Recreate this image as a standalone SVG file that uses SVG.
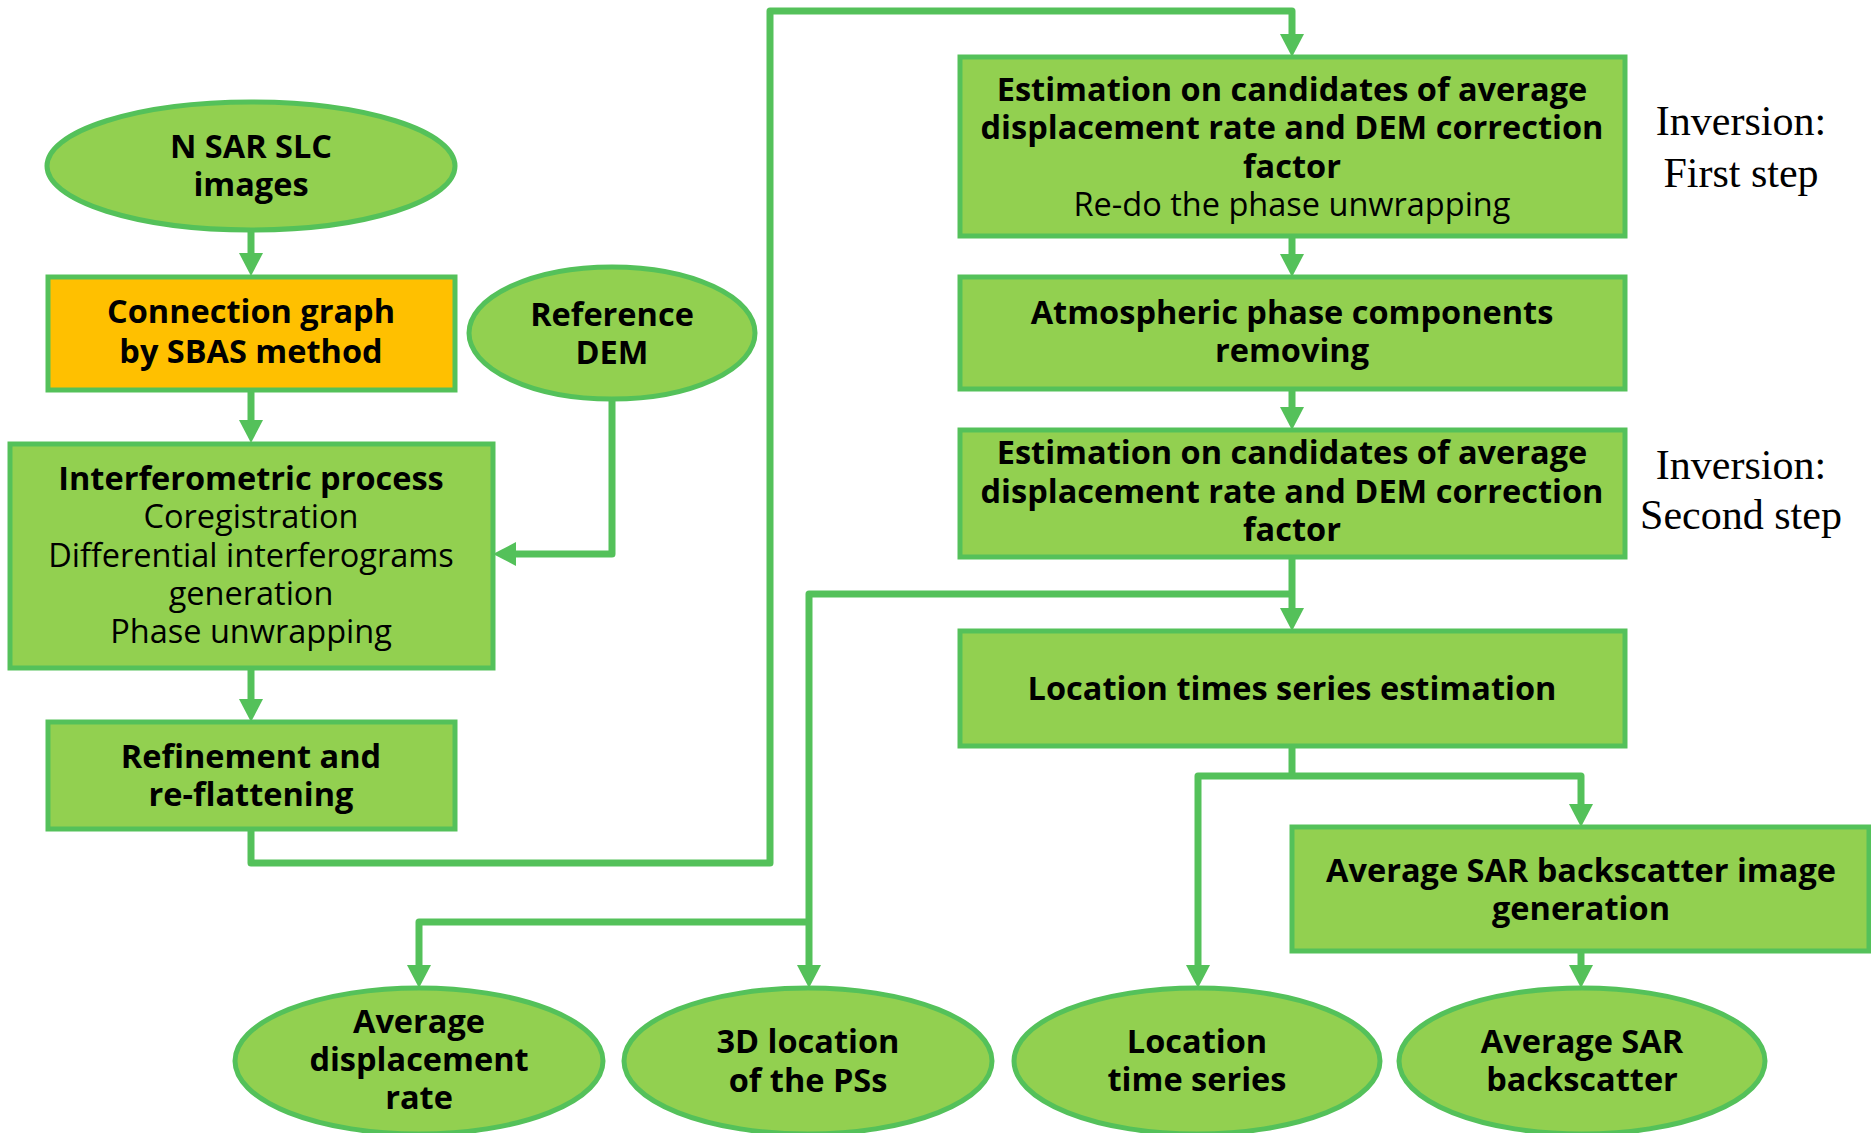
<svg xmlns="http://www.w3.org/2000/svg" width="1871" height="1133" viewBox="0 0 1871 1133">
  <defs>
    <marker id="arr" viewBox="0 0 24 24" markerWidth="24" markerHeight="24" refX="11" refY="12" orient="auto" markerUnits="userSpaceOnUse">
      <path d="M0,0 L23,12 L0,24 z" fill="#54C15A"/>
    </marker>
    <style>
      .node { fill: #92D050; stroke: #54C15A; stroke-width: 5; }
      .orange { fill: #FFC000; }
      .conn { fill: none; stroke: #54C15A; stroke-width: 7; stroke-linejoin: round; }
      .arrow { marker-end: url(#arr); }
      .b { font-family: "Open Sans", "Noto Sans", "Liberation Sans", sans-serif; font-weight: bold; font-size: 32.5px; fill: #000; text-anchor: middle; }
      .r { font-family: "Open Sans", "Noto Sans", "Liberation Sans", sans-serif; font-weight: normal; font-size: 32.5px; fill: #000; text-anchor: middle; }
      .serif { font-family: "Liberation Serif", "Times New Roman", serif; font-size: 42px; fill: #000; text-anchor: middle; }
    </style>
  </defs>
  <rect width="1871" height="1133" fill="#FFFFFF"/>

  <g id="connectors">
    <path class="conn arrow" d="M251,230 V264"/>
    <path class="conn arrow" d="M251,390 V431"/>
    <path class="conn arrow" d="M612,399 V554 H505"/>
    <path class="conn arrow" d="M251,668 V710"/>
    <path class="conn arrow" d="M251,829 V863 H770 V11 H1292 V45"/>
    <path class="conn arrow" d="M1292,236 V265"/>
    <path class="conn arrow" d="M1292,389 V418"/>
    <path class="conn arrow" d="M1292,557 V619"/>
    <path class="conn arrow" d="M1292,594 H809 V976"/>
    <path class="conn arrow" d="M809,922 H419 V976"/>
    <path class="conn" d="M1292,746 V776"/>
    <path class="conn arrow" d="M1292,776 H1198 V976"/>
    <path class="conn arrow" d="M1292,776 H1581 V815"/>
    <path class="conn arrow" d="M1581,944 V976"/>
  </g>

  <g id="n-sar-slc">
    <ellipse class="node" cx="251" cy="166" rx="204" ry="64"/>
    <text class="b" x="251" y="158">N SAR SLC</text>
    <text class="b" x="251" y="196">images</text>
  </g>

  <g id="connection-graph">
    <rect class="node orange" x="48" y="277" width="407" height="113"/>
    <text class="b" x="251" y="323">Connection graph</text>
    <text class="b" x="251" y="363">by SBAS method</text>
  </g>

  <g id="reference-dem">
    <ellipse class="node" cx="612" cy="333" rx="143" ry="66"/>
    <text class="b" x="612" y="326">Reference</text>
    <text class="b" x="612" y="364">DEM</text>
  </g>

  <g id="interferometric">
    <rect class="node" x="10" y="444" width="483" height="224"/>
    <text class="b" x="251" y="490">Interferometric process</text>
    <text class="r" x="251" y="528">Coregistration</text>
    <text class="r" x="251" y="567">Differential interferograms</text>
    <text class="r" x="251" y="605">generation</text>
    <text class="r" x="251" y="643">Phase unwrapping</text>
  </g>

  <g id="refinement">
    <rect class="node" x="48" y="722" width="407" height="107"/>
    <text class="b" x="251" y="768">Refinement and</text>
    <text class="b" x="251" y="806">re-flattening</text>
  </g>

  <g id="estimation-1">
    <rect class="node" x="960" y="57" width="665" height="179"/>
    <text class="b" x="1292" y="101">Estimation on candidates of average</text>
    <text class="b" x="1292" y="139">displacement rate and DEM correction</text>
    <text class="b" x="1292" y="178">factor</text>
    <text class="r" x="1292" y="216">Re-do the phase unwrapping</text>
  </g>

  <g id="inversion-1">
    <text class="serif" x="1741" y="135">Inversion:</text>
    <text class="serif" x="1741" y="187">First step</text>
  </g>

  <g id="atmospheric">
    <rect class="node" x="960" y="277" width="665" height="112"/>
    <text class="b" x="1292" y="324">Atmospheric phase components</text>
    <text class="b" x="1292" y="362">removing</text>
  </g>

  <g id="estimation-2">
    <rect class="node" x="960" y="430" width="665" height="127"/>
    <text class="b" x="1292" y="464">Estimation on candidates of average</text>
    <text class="b" x="1292" y="503">displacement rate and DEM correction</text>
    <text class="b" x="1292" y="541">factor</text>
  </g>

  <g id="inversion-2">
    <text class="serif" x="1741" y="479">Inversion:</text>
    <text class="serif" x="1741" y="529">Second step</text>
  </g>

  <g id="location-estimation">
    <rect class="node" x="960" y="631" width="665" height="115"/>
    <text class="b" x="1292" y="700">Location times series estimation</text>
  </g>

  <g id="avg-sar-generation">
    <rect class="node" x="1292" y="827" width="577" height="124"/>
    <text class="b" x="1581" y="882">Average SAR backscatter image</text>
    <text class="b" x="1581" y="920">generation</text>
  </g>

  <g id="avg-displacement">
    <ellipse class="node" cx="419" cy="1061" rx="184" ry="73"/>
    <text class="b" x="419" y="1033">Average</text>
    <text class="b" x="419" y="1071">displacement</text>
    <text class="b" x="419" y="1109">rate</text>
  </g>

  <g id="location-3d">
    <ellipse class="node" cx="808" cy="1061" rx="184" ry="73"/>
    <text class="b" x="808" y="1053">3D location</text>
    <text class="b" x="808" y="1092">of the PSs</text>
  </g>

  <g id="location-time-series">
    <ellipse class="node" cx="1197" cy="1061" rx="183" ry="73"/>
    <text class="b" x="1197" y="1053">Location</text>
    <text class="b" x="1197" y="1091">time series</text>
  </g>

  <g id="avg-sar-backscatter">
    <ellipse class="node" cx="1582" cy="1061" rx="183" ry="73"/>
    <text class="b" x="1582" y="1053">Average SAR</text>
    <text class="b" x="1582" y="1091">backscatter</text>
  </g>
</svg>
